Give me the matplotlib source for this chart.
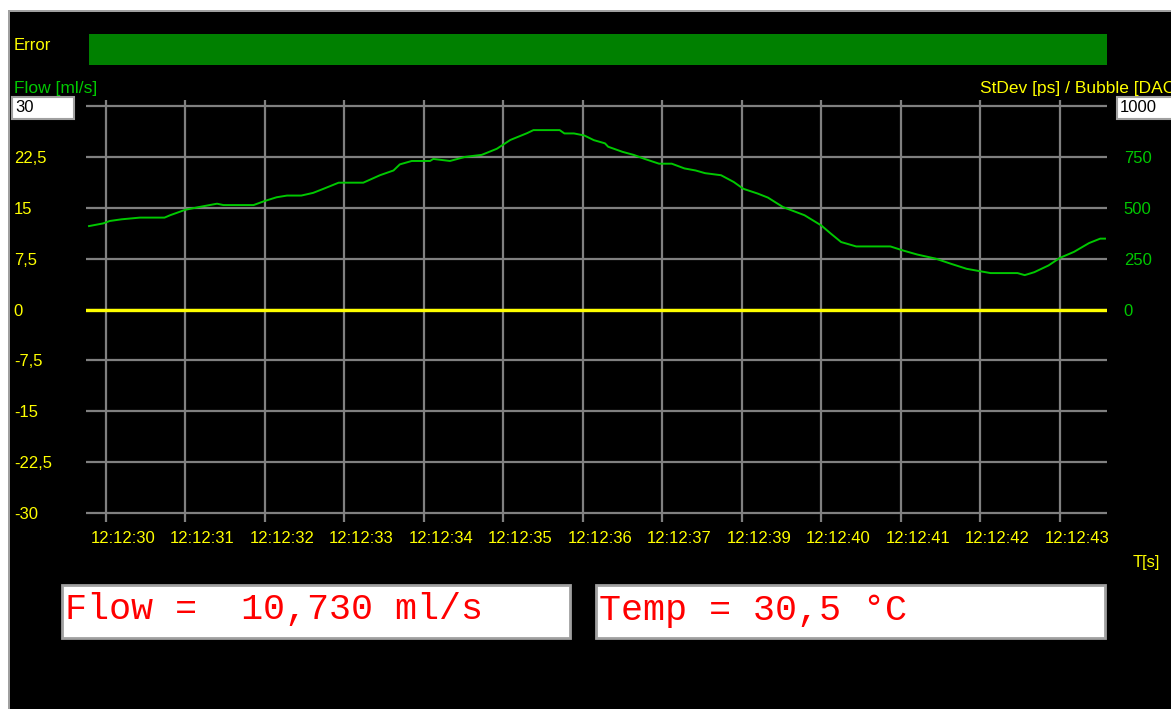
import matplotlib
matplotlib.use("Agg")
from matplotlib import pyplot as plt
from matplotlib.patches import Rectangle
from matplotlib import transforms

# time in seconds after 12:12:30, flow in ml/s
time_s = [-0.21, -0.03, 0.05, 0.2, 0.43, 0.74, 0.81, 1.0, 1.17, 1.40, 1.48, 1.86, 2.0, 2.15, 2.28,
          2.46, 2.61, 2.74, 2.93, 3.24, 3.45, 3.62, 3.70, 3.85, 4.08, 4.12, 4.33, 4.52, 4.73, 4.92,
          5.09, 5.30, 5.38, 5.71, 5.77, 5.89, 6.02, 6.14, 6.28, 6.32, 6.50, 6.64, 6.78, 6.96, 7.12,
          7.28, 7.42, 7.54, 7.74, 7.90, 8.02, 8.20, 8.33, 8.52, 8.79, 9.0, 9.12, 9.25, 9.44, 9.87,
          10.03, 10.21, 10.44, 10.63, 10.83, 11.13, 11.47, 11.56, 11.68, 11.86, 12.0, 12.18, 12.37,
          12.51, 12.57]
flow = [12.3, 12.7, 13.05, 13.3, 13.55, 13.55, 13.9, 14.7, 15.1, 15.6, 15.4, 15.4, 16.0, 16.55, 16.8,
        16.8, 17.2, 17.8, 18.7, 18.7, 19.8, 20.5, 21.4, 21.9, 21.9, 22.2, 21.9, 22.5, 22.8, 23.7,
        25.0, 26.0, 26.45, 26.45, 25.96, 25.96, 25.66, 24.97, 24.5, 24.0, 23.25, 22.8, 22.2, 21.5, 21.5,
        20.8, 20.5, 20.1, 19.8, 18.8, 17.8, 17.1, 16.5, 15.1, 13.9, 12.4, 11.2, 9.95, 9.3, 9.3,
        8.7, 8.1, 7.5, 6.75, 6.0, 5.37, 5.37, 5.07, 5.5, 6.5, 7.6, 8.5, 9.8, 10.45, 10.45]
stdev_level = 0

x_ticks = list(range(13))
x_labels = ["12:12:30", "12:12:31", "12:12:32", "12:12:33", "12:12:34", "12:12:35", "12:12:36",
            "12:12:37", "12:12:39", "12:12:40", "12:12:41", "12:12:42", "12:12:43"]
y_ticks = [30, 22.5, 15, 7.5, 0, -7.5, -15, -22.5, -30]
y_labels = ["", "22,5", "15", "7,5", "0", "-7,5", "-15", "-22,5", "-30"]
right_ticks = [0, 250, 500, 750]
right_labels = ["0", "250", "500", "750"]

flow_value = "10,730"
temp_value = "30,5"

W, H = 1171, 709


def fx(x):
    return x / W


def fy(y):
    return 1 - y / H


def fig_box(fig, x0, y0, x1, y1, face, edge=None, lw=0):
    r = Rectangle((fx(x0), fy(y1)), fx(x1) - fx(x0), fy(y0) - fy(y1), transform=fig.transFigure,
                  facecolor=face, edgecolor=edge if edge else face, linewidth=lw)
    fig.add_artist(r)


plt.rcParams["font.family"] = ["Liberation Sans", "DejaVu Sans"]
YEL = "#ffff00"
GRN = "#00c800"

fig = plt.figure(figsize=(W / 100, H / 100), dpi=100, facecolor="black")

# window frame
fig_box(fig, 0, 0, W, 10, "white")
fig_box(fig, 0, 0, 8, H, "white")
fig_box(fig, 8, 10, W, 12, "#a0a0a0")
fig_box(fig, 8, 10, 10, H, "#a0a0a0")

# error bar
fig_box(fig, 89, 34, 1107, 65, "#008000")
fig.text(fx(14), fy(45), "Error", color=YEL, fontsize=12, va="center", ha="left")

ax = fig.add_axes([fx(86), fy(522), fx(1107) - fx(86), fy(100) - fy(522)])
ax.set_facecolor("black")
ax.set_xlim(-0.248, 12.595)
ax.set_ylim(-31.33, 30.89)
for s in ax.spines.values():
    s.set_visible(False)

ax.set_xticks(x_ticks, x_labels)
ax.set_yticks(y_ticks, y_labels)
ax.grid(True, color="#808080", linewidth=1.6)
ax.set_axisbelow(True)
ax.tick_params(axis="x", length=0, pad=6.5, colors=YEL, labelsize=12)
ax.tick_params(axis="y", length=0, pad=52, colors=YEL, labelsize=12)
for lab in ax.get_yticklabels():
    lab.set_horizontalalignment("left")
shift = transforms.ScaledTranslation(17 / 100, 0, fig.dpi_scale_trans)
for lab in ax.get_xticklabels():
    lab.set_transform(lab.get_transform() + shift)

ax.axhline(stdev_level, color=YEL, linewidth=2.4)
ax.plot(time_s, flow, color=GRN, linewidth=1.4)

# right axis (StDev / Bubble)
sec = ax.secondary_yaxis("right", functions=(lambda v: v * 100 / 3, lambda v: v * 0.03))
sec.set_yticks(right_ticks, right_labels)
sec.tick_params(length=0, pad=12, colors=GRN, labelsize=12)
for s in sec.spines.values():
    s.set_visible(False)

# axis titles
fig.text(fx(14), fy(89), "Flow [ml/s]", color=GRN, fontsize=12.5, va="center", ha="left")
fig.text(fx(980), fy(89), "StDev [ps] / Bubble [DAC]", color=YEL, fontsize=12.5, va="center", ha="left")
fig.text(fx(1133), fy(563), "T[s]", color=YEL, fontsize=12, va="center", ha="left")

# scale boxes
fig_box(fig, 12, 97, 74, 119, "white", "#a0a0a0", 1.5)
fig.text(fx(15), fy(108), "30", color="black", fontsize=12, va="center", ha="left")
fig_box(fig, 1117, 97, 1175, 119, "white", "#a0a0a0", 1.5)
fig.text(fx(1120), fy(108), "1000", color="black", fontsize=12, va="center", ha="left")

# readouts
fig_box(fig, 62, 585, 570, 638, "white", "#a0a0a0", 2)
fig_box(fig, 596, 585, 1105, 638, "white", "#a0a0a0", 2)
fig.text(fx(65), fy(610), f"Flow =  {flow_value} ml/s", color="#ff0000", fontsize=26.5,
         family="Liberation Mono", va="center", ha="left")
fig.text(fx(599), fy(610), f"Temp = {temp_value} °C", color="#ff0000", fontsize=26.5,
         family="Liberation Mono", va="center", ha="left")

plt.savefig("out.png", dpi=100, facecolor="black")
